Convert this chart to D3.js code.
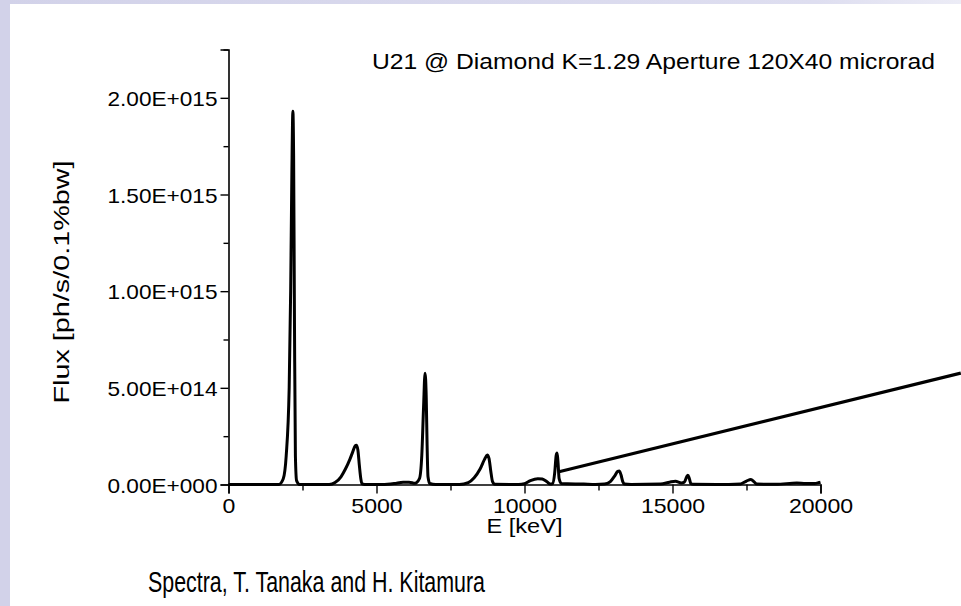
<!DOCTYPE html>
<html>
<head>
<meta charset="utf-8">
<script src="https://cdn.jsdelivr.net/npm/d3@7"></script>
<style>
  html, body { margin: 0; padding: 0; background: #ffffff; }
  svg { display: block; }
  text { font-family: "Liberation Sans", Arial, sans-serif; fill: #000; }
</style>
</head>
<body>
<svg id="chart" width="961" height="606"></svg>
<script>
// ---- data ----
const energy = [0, 1000, 1700, 1850, 1950, 2050, 2100, 2140, 2175, 2200, 2230, 2260, 2300, 2400,
  3400, 3600, 3800, 3950, 4100, 4200, 4280, 4320, 4370, 4420, 4470, 4520, 4600,
  5200, 5600, 5900, 6100, 6300, 6450, 6530, 6590, 6640, 6680, 6710, 6740, 6800, 7000,
  7800, 8100, 8300, 8500, 8650, 8740, 8800, 8860, 8920, 9000,
  9800, 10000, 10200, 10450, 10600, 10750, 10870, 10950, 11020, 11070, 11100, 11130, 11170, 11250,
  12000, 12400, 12700, 12900, 13050, 13150, 13200, 13260, 13320, 13380, 13600,
  14600, 14900, 15100, 15300, 15400, 15480, 15520, 15570, 15620, 15700,
  16500, 17300, 17500, 17650, 17750, 17850, 18500, 19200, 19500, 19800, 19950, 20000];
const flux = [0, 0, 0.002e14, 0.3e14, 1.5e14, 5e14, 10e14, 16e14, 19.3e14, 17e14, 8e14, 1.5e14, 0.2e14, 0,
  0, 0.1e14, 0.4e14, 0.8e14, 1.3e14, 1.7e14, 2.0e14, 2.03e14, 1.8e14, 1.0e14, 0.3e14, 0.03e14, 0,
  0, 0.05e14, 0.12e14, 0.12e14, 0.06e14, 0.3e14, 1.5e14, 4e14, 5.76e14, 4.5e14, 2e14, 0.4e14, 0.05e14, 0,
  0, 0.1e14, 0.35e14, 0.8e14, 1.3e14, 1.52e14, 1.35e14, 0.7e14, 0.15e14, 0.01e14,
  0, 0.04e14, 0.2e14, 0.3e14, 0.28e14, 0.15e14, 0.02e14, 0.05e14, 0.6e14, 1.5e14, 1.63e14, 1.2e14, 0.3e14, 0.05e14,
  0.02e14, 0, 0.02e14, 0.15e14, 0.45e14, 0.68e14, 0.7e14, 0.5e14, 0.15e14, 0.02e14, 0,
  0.02e14, 0.12e14, 0.17e14, 0.08e14, 0.12e14, 0.4e14, 0.48e14, 0.3e14, 0.05e14, 0.01e14,
  0, 0.03e14, 0.18e14, 0.26e14, 0.15e14, 0.02e14, 0.01e14, 0.08e14, 0.05e14, 0.05e14, 0.1e14, 0.12e14];
const xTicks = [0, 5000, 10000, 15000, 20000];
const xMinorTicks = [2500, 7500, 12500, 17500];
const yTicks = [0, 5e14, 10e14, 15e14, 20e14];
const yTickLabels = ["0.00E+000", "5.00E+014", "1.00E+015", "1.50E+015", "2.00E+015"];
const yMinorTicks = [2.5e14, 7.5e14, 12.5e14, 17.5e14, 22.5e14];
const annotationLine = [[11130, 0.65e14], [24740, 5.76e14]];
const xLabel = "E [keV]";
const yLabel = "Flux [ph/s/0.1%bw]";
const noteText = "U21 @ Diamond K=1.29 Aperture 120X40 microrad";
const creditText = "Spectra, T. Tanaka and H. Kitamura";

// ---- drawing ----
const svg = d3.select("#chart");
const W = 961, H = 606;

// slide background strips
const defs = svg.append("defs");
const grad = defs.append("linearGradient").attr("id", "topgrad").attr("x1", 0).attr("x2", 1);
grad.append("stop").attr("offset", "0").attr("stop-color", "#d2d2e9");
grad.append("stop").attr("offset", "0.85").attr("stop-color", "#dedef0");
grad.append("stop").attr("offset", "1").attr("stop-color", "#ececf6");
svg.append("rect").attr("x", 0).attr("y", 0).attr("width", W).attr("height", 4).attr("fill", "url(#topgrad)");
svg.append("rect").attr("x", 0).attr("y", 0).attr("width", 10).attr("height", H).attr("fill", "#d2d2e9");

const x = d3.scaleLinear().domain([0, 20000]).range([228.5, 820.5]);
const y = d3.scaleLinear().domain([0, 22.5e14]).range([484.5, 49.5]);

function fitWidth(sel, width) {
  sel.attr("textLength", width).attr("lengthAdjust", "spacingAndGlyphs");
}

const gx = svg.append("g").attr("transform", `translate(0,${y(0)})`);
gx.call(d3.axisBottom(x).tickValues(xTicks).tickSize(9).tickPadding(4).tickFormat(d3.format("d")));
const gxm = svg.append("g").attr("transform", `translate(0,${y(0)})`);
gxm.call(d3.axisBottom(x).tickValues(xMinorTicks).tickSize(6).tickFormat(""));
gxm.select(".domain").remove();

const gy = svg.append("g").attr("transform", `translate(${x(0)},0)`);
gy.call(d3.axisLeft(y).tickValues(yTicks).tickSize(8).tickPadding(3).tickFormat((d, i) => yTickLabels[i]));
const gym = svg.append("g").attr("transform", `translate(${x(0)},0)`);
gym.call(d3.axisLeft(y).tickValues(yMinorTicks).tickSize(5).tickFormat(""));
gym.select(".domain").remove();

svg.selectAll(".domain").attr("stroke", "#000").attr("stroke-width", 1.6);
svg.selectAll(".tick line").attr("stroke", "#000").attr("stroke-width", 1.4);
svg.selectAll(".tick text").style("font-family", "'Liberation Sans', Arial, sans-serif").style("font-size", "21px").attr("fill", "#000");
gy.selectAll(".tick text").attr("dy", "0.36em");
gx.selectAll(".tick text").attr("dy", "0.75em");
fitWidth(gy.selectAll(".tick text"), 110);
gx.selectAll(".tick text").each(function () {
  d3.select(this).attr("textLength", this.getComputedTextLength() * 1.1).attr("lengthAdjust", "spacingAndGlyphs");
});

// axis titles
svg.append("text").attr("x", x(10000)).attr("y", 533).attr("text-anchor", "middle").style("font-size", "20px")
  .attr("textLength", 76).attr("lengthAdjust", "spacingAndGlyphs").text(xLabel);
svg.append("text").attr("transform", `translate(69,282) rotate(-90)`).attr("text-anchor", "middle").style("font-size", "22px")
  .attr("textLength", 243).attr("lengthAdjust", "spacingAndGlyphs").text(yLabel);

// data line
const pts = energy.map((e, i) => [e, flux[i]]);
const line = d3.line().x(d => x(d[0])).y(d => y(d[1])).curve(d3.curveMonotoneX);
svg.append("path").datum(pts).attr("d", line).attr("fill", "none").attr("stroke", "#000")
  .attr("stroke-width", 3).attr("stroke-linejoin", "round");

// annotation line
svg.append("path").datum(annotationLine).attr("d", d3.line().x(d => x(d[0])).y(d => y(d[1])))
  .attr("stroke", "#000").attr("stroke-width", 3.2).attr("fill", "none");

// texts
svg.append("text").attr("x", 372).attr("y", 69).style("font-size", "22px")
  .attr("textLength", 563).attr("lengthAdjust", "spacingAndGlyphs").text(noteText);
svg.append("text").attr("x", 148).attr("y", 592)
  .style("font-family", "'Liberation Sans Narrow', 'Arial Narrow', 'Liberation Sans', sans-serif").style("font-size", "29px")
  .attr("textLength", 337).attr("lengthAdjust", "spacingAndGlyphs").text(creditText);
</script>
</body>
</html>
